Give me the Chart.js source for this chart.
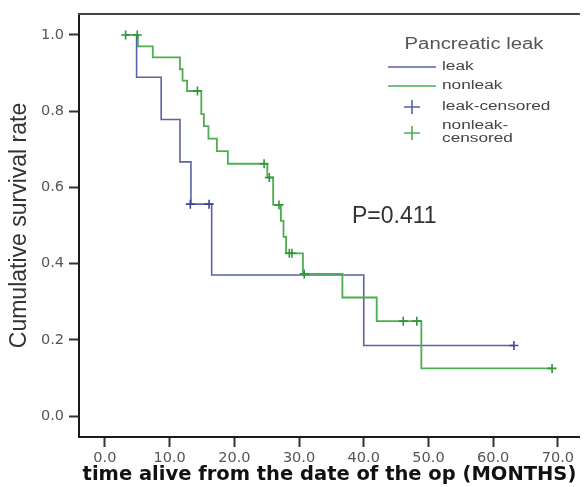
<!DOCTYPE html>
<html><head><meta charset="utf-8">
<script src="https://cdn.jsdelivr.net/npm/chart.js@4.4.1/dist/chart.umd.min.js"></script>
<style>html,body{margin:0;padding:0;background:#fff;} canvas{display:block;}</style>
</head><body>
<canvas id="c" width="586" height="487"></canvas>
<script>
const xTicks = [0, 10, 20, 30, 40, 50, 60, 70];
const yTicks = [0, 0.2, 0.4, 0.6, 0.8, 1.0];

const leakTimes = [4.9, 4.9, 8.7, 11.6, 13.3, 16.5, 40.0, 63.2];
const leakSurv  = [1.0, 0.889, 0.778, 0.667, 0.556, 0.370, 0.185, 0.185];
const leakCensTimes = [13.2, 16.1, 63.2];
const leakCensSurv  = [0.556, 0.556, 0.185];

const nonleakTimes = [3.2, 5.1, 7.4, 11.6, 12.0, 12.7, 14.9, 15.3, 16.0, 17.3, 19.0, 25.1, 26.0, 27.2, 27.6, 28.0, 30.6, 36.7, 42.0, 48.9, 69.1];
const nonleakSurv  = [1.0, 0.970, 0.941, 0.910, 0.880, 0.853, 0.792, 0.761, 0.728, 0.695, 0.662, 0.626, 0.554, 0.512, 0.470, 0.427, 0.373, 0.311, 0.249, 0.125, 0.125];
const nonleakCensTimes = [3.2, 5.0, 14.3, 24.6, 25.4, 26.9, 28.5, 28.9, 30.8, 46.1, 48.2, 69.1];
const nonleakCensSurv  = [1.0, 1.0, 0.853, 0.662, 0.626, 0.554, 0.427, 0.427, 0.373, 0.249, 0.249, 0.125];

const legendTitle = 'Pancreatic leak';
const legendLabels = ['leak', 'nonleak', 'leak-censored', ['nonleak-', 'censored']];
const pText = 'P=0.411';

const BLUE = '#5a62a8', BLUE_D = '#3f4690';
const GREEN = '#4cae50', GREEN_D = '#2f953a';

const pts = (xs, ys) => xs.map((x, i) => ({x: x, y: ys[i]}));

const extras = {
  id: 'extras',
  afterDatasetsDraw(chart) {
    const ctx = chart.ctx, a = chart.chartArea;
    ctx.save();
    // top frame line
    ctx.strokeStyle = '#444'; ctx.lineWidth = 2;
    ctx.beginPath(); ctx.moveTo(a.left - 1, a.top); ctx.lineTo(a.right, a.top); ctx.stroke();

    // legend
    const stretch = (txt, x, y, font, sx, align) => {
      ctx.save(); ctx.translate(x, y); ctx.scale(sx, 1);
      ctx.font = font; ctx.textAlign = align; ctx.textBaseline = 'middle';
      ctx.fillText(txt, 0, 0); ctx.restore();
    };
    ctx.fillStyle = '#555';
    stretch(legendTitle, 474, 45, '16px "Liberation Sans", Arial, sans-serif', 1.27, 'center');
    ctx.lineWidth = 1.6;
    ctx.strokeStyle = BLUE; ctx.beginPath(); ctx.moveTo(388, 67); ctx.lineTo(436, 67); ctx.stroke();
    ctx.strokeStyle = GREEN; ctx.beginPath(); ctx.moveTo(388, 86); ctx.lineTo(436, 86); ctx.stroke();
    const cross = (cx, cy, col) => {
      ctx.strokeStyle = col; ctx.lineWidth = 1.6; ctx.beginPath();
      ctx.moveTo(cx - 8, cy); ctx.lineTo(cx + 8, cy);
      ctx.moveTo(cx, cy - 7); ctx.lineTo(cx, cy + 7); ctx.stroke();
    };
    cross(412, 107, BLUE); cross(412, 133, GREEN);
    ctx.fillStyle = '#444';
    const lf = '12.5px "Liberation Sans", Arial, sans-serif';
    stretch(legendLabels[0], 442, 67, lf, 1.38, 'left');
    stretch(legendLabels[1], 442, 86, lf, 1.38, 'left');
    stretch(legendLabels[2], 442, 107, lf, 1.38, 'left');
    stretch(legendLabels[3][0], 442, 126, lf, 1.38, 'left');
    stretch(legendLabels[3][1], 442, 139, lf, 1.38, 'left');

    // p-value
    ctx.fillStyle = '#333';
    ctx.font = '23px "Liberation Sans", Arial, sans-serif';
    ctx.textAlign = 'left'; ctx.textBaseline = 'middle';
    ctx.fillText(pText, 352, 217);
    ctx.restore();
  }
};

new Chart(document.getElementById('c'), {
  type: 'scatter',
  data: {
    datasets: [
      { label: 'leak', data: pts(leakTimes, leakSurv), showLine: true, stepped: true,
        borderColor: BLUE, borderWidth: 1.6, pointRadius: 0, fill: false, order: 4 },
      { label: 'nonleak', data: pts(nonleakTimes, nonleakSurv), showLine: true, stepped: true,
        borderColor: GREEN, borderWidth: 1.8, pointRadius: 0, fill: false, order: 3 },
      { label: 'leak-censored', data: pts(leakCensTimes, leakCensSurv), showLine: false,
        pointStyle: 'cross', pointRadius: 4.5, borderColor: BLUE_D, borderWidth: 1.6, order: 2 },
      { label: 'nonleak-censored', data: pts(nonleakCensTimes, nonleakCensSurv), showLine: false,
        pointStyle: 'cross', pointRadius: 4.5, borderColor: GREEN_D, borderWidth: 1.6, order: 1 }
    ]
  },
  options: {
    responsive: false, animation: false, devicePixelRatio: 1,
    layout: { padding: { top: 14, left: 0, right: 0, bottom: 0 } },
    plugins: { legend: { display: false }, tooltip: { enabled: false } },
    scales: {
      x: {
        type: 'linear', position: 'bottom', min: -4, max: 73.4,
        afterBuildTicks: s => { s.ticks = xTicks.map(v => ({ value: v })); },
        afterFit: s => { s.height = 50; },
        grid: { display: true, drawOnChartArea: false, drawTicks: true, tickLength: 10, tickWidth: 2, tickColor: '#333' },
        border: { display: true, color: '#1a1a1a', width: 2 },
        ticks: { callback: v => Number(v).toFixed(1), color: '#555', padding: 3,
                 font: { family: '"DejaVu Sans", Verdana, sans-serif', size: 14.5 }, maxRotation: 0 },
        title: { display: true, text: 'time alive from the date of the op (MONTHS)', color: '#111',
                 font: { family: '"DejaVu Sans", Verdana, sans-serif', size: 19.5, weight: 'bold' },
                 padding: { top: 0, bottom: 0 } }
      },
      y: {
        type: 'linear', min: -0.055, max: 1.055,
        afterBuildTicks: s => { s.ticks = yTicks.map(v => ({ value: v })); },
        afterFit: s => { s.width = 79; },
        grid: { display: true, drawOnChartArea: false, drawTicks: true, tickLength: 10, tickWidth: 2, tickColor: '#333' },
        border: { display: true, color: '#1a1a1a', width: 2 },
        ticks: { callback: v => Number(v).toFixed(1), color: '#555', padding: 5,
                 font: { family: '"DejaVu Sans", Verdana, sans-serif', size: 14.5 } },
        title: { display: true, text: 'Cumulative survival rate', color: '#333',
                 font: { family: '"Liberation Sans", Arial, sans-serif', size: 23 },
                 padding: { top: 6, bottom: 0 } }
      }
    }
  },
  plugins: [extras]
});
</script>
</body></html>
